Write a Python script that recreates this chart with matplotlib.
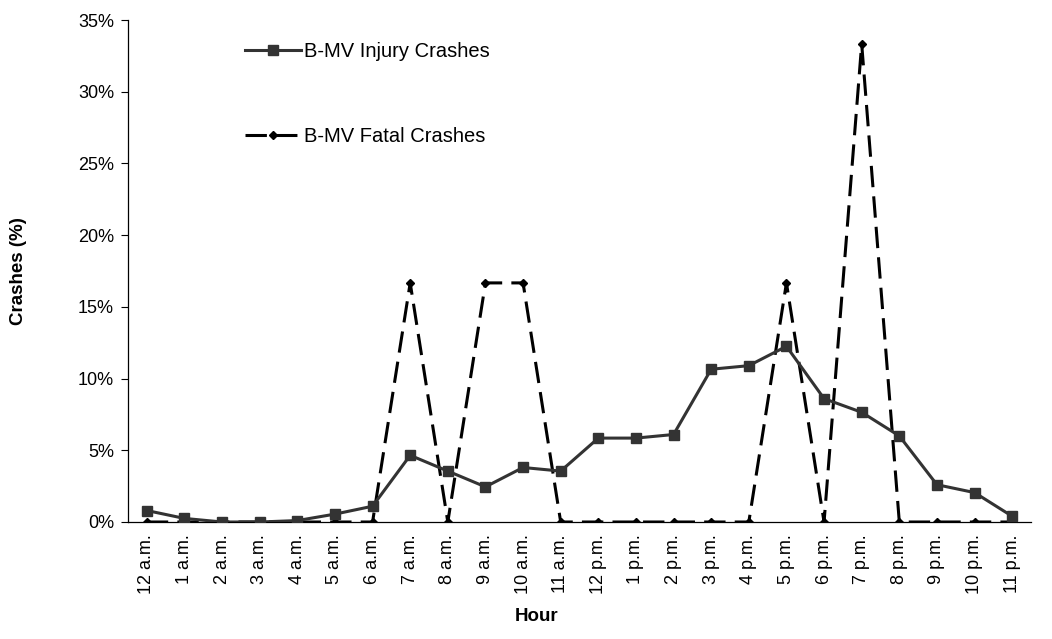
import numpy as np
import matplotlib.pyplot as plt
from matplotlib.ticker import PercentFormatter

plt.rcParams['font.family'] = ['Liberation Sans', 'DejaVu Sans']

hours = ["12 a.m.", "1 a.m.", "2 a.m.", "3 a.m.", "4 a.m.", "5 a.m.", "6 a.m.",
         "7 a.m.", "8 a.m.", "9 a.m.", "10 a.m.", "11 a.m.", "12 p.m.", "1 p.m.",
         "2 p.m.", "3 p.m.", "4 p.m.", "5 p.m.", "6 p.m.", "7 p.m.", "8 p.m.",
         "9 p.m.", "10 p.m.", "11 p.m."]
injury = [0.8, 0.25, 0.0, 0.0, 0.1, 0.55, 1.1, 4.65, 3.55, 2.45, 3.8, 3.55,
          5.85, 5.85, 6.1, 10.65, 10.9, 12.25, 8.6, 7.65, 6.0, 2.6, 2.05, 0.4]
fatal = [0, 0, 0, 0, 0, 0, 0, 16.67, 0, 16.67, 16.67, 0,
         0, 0, 0, 0, 0, 16.67, 0, 33.33, 0, 0, 0, 0]

W, H = 1052, 639
fig = plt.figure(figsize=(W / 100, H / 100), dpi=100)
ax = fig.add_axes([128/W, 1 - 522/H, (1031-128)/W, (522-20)/H])

x = np.arange(len(hours))
ax.plot(x, injury, color='#333333', lw=2.2, marker='s', ms=7,
        label='B-MV Injury Crashes', zorder=3)
ax.plot(x, fatal, color='black', lw=2.2, dashes=(7, 3), marker='D', ms=4.5,
        label='B-MV Fatal Crashes', zorder=2)

ax.set_xlim(-0.5, len(hours) - 0.5)
ax.set_ylim(0, 35)
ax.set_yticks(np.arange(0, 36, 5))
ax.yaxis.set_major_formatter(PercentFormatter(decimals=0))
ax.set_xticks(x)
ax.set_xticklabels(hours, rotation=90, fontsize=13)
ax.tick_params(axis='x', length=0, pad=9)
ax.tick_params(axis='y', labelsize=13, length=5, direction='out', pad=5)

for s in ['top', 'right']:
    ax.spines[s].set_visible(False)
ax.spines['left'].set_linewidth(0.9)
ax.spines['bottom'].set_linewidth(0.9)

ax.set_xlabel('Hour', fontsize=13.5, fontweight='bold')
ax.xaxis.set_label_coords((537 - 128) / (1031 - 128), -(608 - 522) / (522 - 20))
ax.set_ylabel('Crashes (%)', fontsize=13.5, fontweight='bold')
ax.yaxis.set_label_coords(-(128 - 27) / (1031 - 128), 0.5)

ax.legend(loc='upper left', bbox_to_anchor=(0.109, 0.993), frameon=False,
          fontsize=14.5, labelspacing=3.3, handlelength=2.8, handletextpad=0.15)

fig.savefig('out.png', dpi=100)
